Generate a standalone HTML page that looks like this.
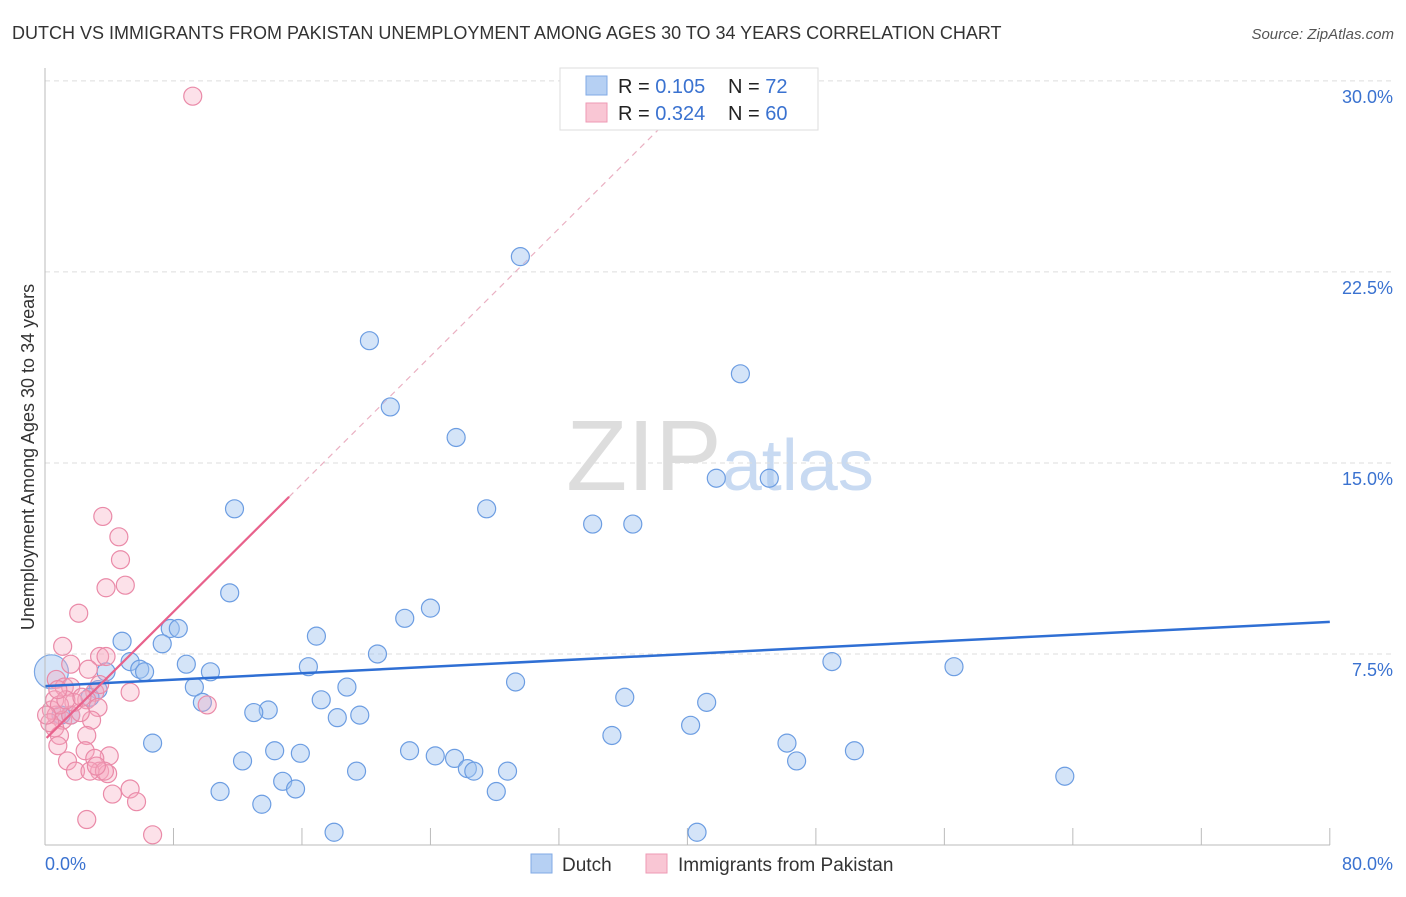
<!DOCTYPE html>
<html><head><meta charset="utf-8"><style>
body{margin:0;background:#fff;font-family:"Liberation Sans",sans-serif}
svg text{font-family:"Liberation Sans",sans-serif}
</style></head><body>
<svg id="chart" width="1406" height="892" xmlns="http://www.w3.org/2000/svg">
<text x="12" y="39" font-size="18" fill="#333">DUTCH VS IMMIGRANTS FROM PAKISTAN UNEMPLOYMENT AMONG AGES 30 TO 34 YEARS CORRELATION CHART</text>
<text x="1394" y="39" font-size="15" fill="#555" text-anchor="end" font-style="italic">Source: ZipAtlas.com</text>
<text x="720" y="490" font-size="100" fill="#ddd" text-anchor="middle" font-family="Liberation Serif">ZIP<tspan fill="#c8daf2" font-family="Liberation Sans" font-size="72">atlas</tspan></text>
<text transform="translate(34,457) rotate(-90)" font-size="18" fill="#333" text-anchor="middle">Unemployment Among Ages 30 to 34 years</text>
<g id="grid"></g><g id="ticks"></g><g id="marks"></g>
<line x1="45" y1="845" x2="1330" y2="845" stroke="#bbb"/>
<line x1="45" y1="68" x2="45" y2="845" stroke="#bbb"/>
<g>
<rect x="560" y="68" width="258" height="62" fill="#fff" stroke="#ddd"/>
<rect x="586" y="76" width="21" height="19" fill="#b6d0f3" stroke="#80aae6"/>
<rect x="586" y="103" width="21" height="19" fill="#f9c6d4" stroke="#ee9ab4"/>
<text x="618" y="93" font-size="20" fill="#222">R = <tspan fill="#3a72d0">0.105</tspan><tspan x="728">N = </tspan><tspan fill="#3a72d0">72</tspan></text>
<text x="618" y="120" font-size="20" fill="#222">R = <tspan fill="#3a72d0">0.324</tspan><tspan x="728">N = </tspan><tspan fill="#3a72d0">60</tspan></text>
</g>
<g>
<rect x="531" y="854" width="21" height="19" fill="#b6d0f3" stroke="#80aae6"/>
<text x="562" y="871" font-size="19" fill="#333">Dutch</text>
<rect x="646" y="854" width="21" height="19" fill="#f9c6d4" stroke="#ee9ab4"/>
<text x="678" y="871" font-size="19" fill="#333">Immigrants from Pakistan</text>
</g>
</svg>
<script>
const yTicks=[7.5,15,22.5,30];
const yTickLabels=["7.5%","15.0%","22.5%","30.0%"];
const xTicks=[0,8,16,24,32,40,48,56,64,72,80];
const xEndLabels=["0.0%","80.0%"];
const dutchX=[29.6,20.2,43.3,21.5,25.6,41.8,45.1,11.8,27.5,34.1,36.6,11.5,24.0,22.4,7.8,8.3,16.9,4.8,7.3,20.7,5.3,8.8,49.0,56.6,16.4,5.9,6.2,10.3,3.8,29.3,18.8,9.3,3.3,2.8,17.2,36.1,9.8,41.2,13.9,13.0,18.2,19.6,1.6,1.0,6.7,35.3,40.2,14.3,15.9,22.7,24.3,25.5,46.2,50.4,46.8,12.3,19.4,26.3,26.7,28.8,63.5,14.8,15.6,10.9,28.1,13.5,18.0,40.6];
const dutchY=[23.1,19.8,18.5,17.2,16.0,14.4,14.4,13.2,13.2,12.6,12.6,9.9,9.3,8.9,8.5,8.5,8.2,8.0,7.9,7.5,7.2,7.1,7.2,7.0,7.0,6.9,6.8,6.8,6.8,6.4,6.2,6.2,6.1,5.8,5.7,5.8,5.6,5.6,5.3,5.2,5.0,5.1,5.1,5.1,4.0,4.3,4.7,3.7,3.6,3.7,3.5,3.4,4.0,3.7,3.3,3.3,2.9,3.0,2.9,2.9,2.7,2.5,2.2,2.1,2.1,1.6,0.5,0.5];
const pakX=[9.2,3.6,4.6,4.7,3.8,5.0,2.1,1.1,1.6,3.4,3.8,2.7,0.7,1.2,1.6,3.1,5.3,2.6,3.3,10.1,2.9,0.4,0.7,1.1,1.6,2.2,0.6,0.9,2.6,0.8,2.5,1.4,4.0,1.9,3.1,3.4,2.8,3.9,3.7,3.2,5.3,4.2,5.7,2.6,6.7,0.3,0.6,1.8,0.9,0.1,1.3,2.3,0.8,3.4];
const pakY=[29.4,12.9,12.1,11.2,10.1,10.2,9.1,7.8,7.1,7.4,7.4,6.9,6.5,6.2,6.2,6.0,6.0,5.7,5.4,5.5,4.9,5.3,5.1,4.9,5.1,5.2,4.6,4.3,4.3,3.9,3.7,3.3,3.5,2.9,3.4,2.9,2.9,2.8,2.9,3.1,2.2,2.0,1.7,1.0,0.4,4.8,5.7,5.6,5.5,5.1,5.7,5.8,6.1,6.3];
const dutchTrend=[6.24,8.76];
const pakTrend=[4.14,0.627];
const X=v=>45+v*16.06, Y=v=>845-v*25.47;
const NS="http://www.w3.org/2000/svg";
function mk(tag,attrs,parent){const e=document.createElementNS(NS,tag);for(const k in attrs)e.setAttribute(k,attrs[k]);document.getElementById(parent).appendChild(e);return e;}
yTicks.forEach((t,i)=>{
 const l=mk('line',{x1:45,x2:1395,y1:Y(t),y2:Y(t),stroke:'#ddd','stroke-dasharray':'5,4'},'grid');
 
 
 const tx=mk('text',{x:1393,y:Y(t)+22,'font-size':18,fill:'#3a72d0','text-anchor':'end'},'ticks');
 tx.textContent=yTickLabels[i];
 
 
});
xTicks.forEach(t=>{
 const l=mk('line',{x1:X(t),x2:X(t),y1:828,y2:845,stroke:'#bbb'},'ticks');
 
 
});
const a=mk('text',{x:45,y:870,'font-size':18,fill:'#3a72d0'},'ticks');a.textContent=xEndLabels[0];


const b=mk('text',{x:1393,y:870,'font-size':18,fill:'#3a72d0','text-anchor':'end'},'ticks');b.textContent=xEndLabels[1];


const big=mk('circle',{cx:X(0.4),cy:Y(6.8),r:17,fill:'rgba(160,196,240,0.45)',stroke:'#7aa6e4','stroke-width':1.2},'marks');


dutchX.forEach((x,i)=>{
 const c=mk('circle',{cx:X(x),cy:Y(dutchY[i]),r:9,fill:'rgba(160,196,240,0.45)',stroke:'#6c9de2','stroke-width':1.2},'marks');
 
 
});
pakX.forEach((x,i)=>{
 const c=mk('circle',{cx:X(x),cy:Y(pakY[i]),r:9,fill:'rgba(245,170,192,0.35)',stroke:'#ea8aa8','stroke-width':1.2},'marks');
 
 
});
const bl=mk('line',{x1:X(0),y1:Y(dutchTrend[0]),x2:X(80),y2:Y(dutchTrend[1]),stroke:'#2f6fd4','stroke-width':2.5},'marks');


const pf=v=>pakTrend[0]+pakTrend[1]*v;
const pl=mk('line',{x1:X(0.1),y1:Y(pf(0.1)),x2:X(15.2),y2:Y(pf(15.2)),stroke:'#e8628c','stroke-width':2.2},'marks');


const xe=(30-pakTrend[0])/pakTrend[1];
const pd=mk('line',{x1:X(15.2),y1:Y(pf(15.2)),x2:X(xe),y2:Y(30),stroke:'#eab0c2','stroke-width':1.2,'stroke-dasharray':'6,5'},'grid');


</script>
</body></html>
